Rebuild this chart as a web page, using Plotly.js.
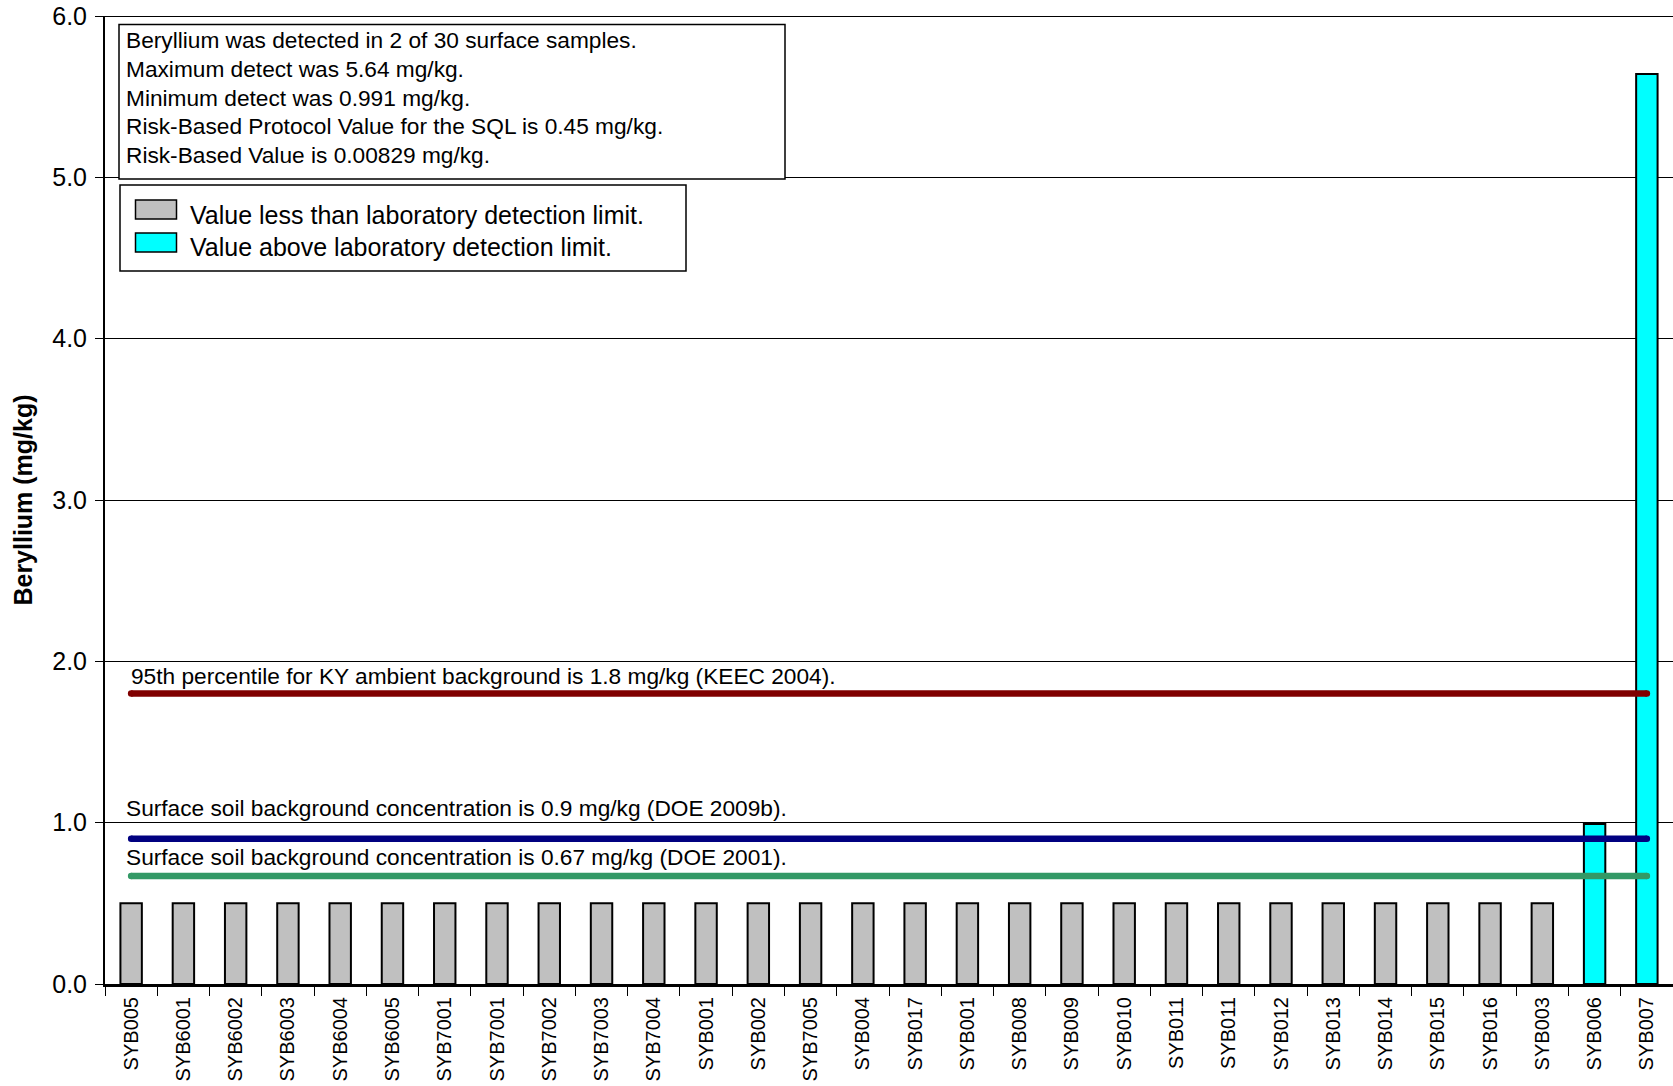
<!DOCTYPE html>
<html><head><meta charset="utf-8">
<script src="https://cdn.plot.ly/plotly-3.0.1.min.js"></script>
<style>html,body{margin:0;padding:0;background:#fff}#chart{width:1673px;height:1086px}</style>
</head><body><div id="chart"></div>
<script>
// ---------- data ----------
const sampleIds = ["SYB005","SYB6001","SYB6002","SYB6003","SYB6004","SYB6005","SYB7001","SYB7001","SYB7002","SYB7003","SYB7004","SYB001","SYB002","SYB7005","SYB004","SYB017","SYB001","SYB008","SYB009","SYB010","SYB011","SYB011","SYB012","SYB013","SYB014","SYB015","SYB016","SYB003","SYB006","SYB007"];
const berylliumValues = [0.5,0.5,0.5,0.5,0.5,0.5,0.5,0.5,0.5,0.5,0.5,0.5,0.5,0.5,0.5,0.5,0.5,0.5,0.5,0.5,0.5,0.5,0.5,0.5,0.5,0.5,0.5,0.5,0.991,5.64];
const detected = [false,false,false,false,false,false,false,false,false,false,false,false,false,false,false,false,false,false,false,false,false,false,false,false,false,false,false,false,true,true];
const refValues = [1.8, 0.9, 0.67];
const refLabels = [
  "95th percentile for KY ambient background is 1.8 mg/kg (KEEC 2004).",
  "Surface soil background concentration is 0.9 mg/kg (DOE 2009b).",
  "Surface soil background concentration is 0.67 mg/kg (DOE 2001)."
];
const summaryLines = [
  "Beryllium was detected in 2 of 30 surface samples.",
  "Maximum detect was 5.64 mg/kg.",
  "Minimum detect was 0.991 mg/kg.",
  "Risk-Based Protocol Value for the SQL is 0.45 mg/kg.",
  "Risk-Based Value is 0.00829 mg/kg."
];
const legendLabels = ["Value less than laboratory detection limit.", "Value above laboratory detection limit."];
const yTickVals = [0,1,2,3,4,5,6];
const yTickText = ["0.0","1.0","2.0","3.0","4.0","5.0","6.0"];
const yTitle = "Beryllium (mg/kg)";

// ---------- styles / geometry ----------
const W = 1673, H = 1086, ML = 105, MR = 0, MT = 16, MB = 102;
const PW = W - ML - MR, PH = H - MT - MB;
const fx = px => (px - ML) / PW;
const fy = py => (H - MB - py) / PH;
const FONT = "Arial, 'Liberation Sans', sans-serif";
const refColors = ["#800000", "#000080", "#339966"];
const refLabelX = [129, 123.5, 123.5];
const refLabelShift = [18, 31, 19];
const swatchColors = ["#C0C0C0", "#00FFFF"];

const idx = sampleIds.map((_, i) => i);
const ndX = [], ndY = [], dX = [], dY = [];
idx.forEach(i => { if (detected[i]) { dX.push(i); dY.push(berylliumValues[i]); } else { ndX.push(i); ndY.push(berylliumValues[i]); } });

const traces = [
  {type: "bar", x: ndX, y: ndY, width: 0.41, marker: {color: swatchColors[0], line: {color: "#000", width: 2}}, showlegend: false, hoverinfo: "skip"},
  {type: "bar", x: dX, y: dY, width: 0.41, marker: {color: swatchColors[1], line: {color: "#000", width: 2}}, showlegend: false, hoverinfo: "skip"}
];
refValues.forEach((v, k) => {
  traces.push({type: "scatter", mode: "lines+markers", x: [idx[0], idx[idx.length - 1]], y: [v, v],
    line: {color: refColors[k], width: 6.5}, marker: {color: refColors[k], size: 6.5}, showlegend: false, hoverinfo: "skip"});
});

const shapes = [
  {type: "line", xref: "paper", yref: "y", x0: 0, x1: 1, y0: 6, y1: 6, line: {color: "#000", width: 2}},
  // summary box
  {type: "rect", xref: "paper", yref: "paper", x0: fx(119), x1: fx(785), y0: fy(179), y1: fy(24.5), line: {color: "#000", width: 1.5}, fillcolor: "#fff", layer: "above"},
  // legend box
  {type: "rect", xref: "paper", yref: "paper", x0: fx(120), x1: fx(686), y0: fy(271), y1: fy(185), line: {color: "#000", width: 1.5}, fillcolor: "#fff", layer: "above"},
  {type: "rect", xref: "paper", yref: "paper", x0: fx(135.5), x1: fx(176.5), y0: fy(219), y1: fy(200), line: {color: "#000", width: 1.5}, fillcolor: swatchColors[0], layer: "above"},
  {type: "rect", xref: "paper", yref: "paper", x0: fx(135.5), x1: fx(176.5), y0: fy(252), y1: fy(233), line: {color: "#000", width: 1.5}, fillcolor: swatchColors[1], layer: "above"}
];

const annotations = [];
const summaryY = [40, 69, 97.5, 126, 154.5];
summaryLines.forEach((t, k) => annotations.push({xref: "paper", yref: "paper", x: fx(124), y: fy(summaryY[k]), xanchor: "left", yanchor: "middle",
  text: t, showarrow: false, font: {family: FONT, size: 22.7, color: "#000"}}));
const legendY = [214.5, 246.5];
legendLabels.forEach((t, k) => annotations.push({xref: "paper", yref: "paper", x: fx(188), y: fy(legendY[k]), xanchor: "left", yanchor: "middle",
  text: t, showarrow: false, font: {family: FONT, size: 25, color: "#000"}}));
refLabels.forEach((t, k) => annotations.push({xref: "paper", yref: "y", x: fx(refLabelX[k]), y: refValues[k], yshift: refLabelShift[k], xanchor: "left", yanchor: "middle",
  text: t, showarrow: false, font: {family: FONT, size: 22.7, color: "#000"}}));

const layout = {
  width: W, height: H,
  margin: {l: ML, r: MR, t: MT, b: MB, pad: 0},
  paper_bgcolor: "#fff", plot_bgcolor: "#fff",
  barmode: "overlay",
  font: {family: FONT, color: "#000"},
  xaxis: {
    type: "linear", range: [-0.5, sampleIds.length - 0.5], tickmode: "array", tickvals: idx, ticktext: sampleIds,
    tickangle: -90, ticks: "", ticklabelstandoff: 2, tickfont: {family: FONT, size: 20, color: "#000"},
    minor: {ticks: "outside", tickmode: "linear", tick0: -0.5, dtick: 1, ticklen: 9, tickwidth: 1, tickcolor: "#000", showgrid: false},
    showline: true, linecolor: "#000", linewidth: 3, showgrid: false, zeroline: false, fixedrange: true
  },
  yaxis: {
    range: [0, 6], tickmode: "array", tickvals: yTickVals, ticktext: yTickText,
    ticks: "outside", ticklen: 8, tickwidth: 1, tickcolor: "#000", ticklabelstandoff: 3, tickfont: {family: FONT, size: 25, color: "#000"},
    showline: true, linecolor: "#000", linewidth: 2, showgrid: true, gridcolor: "#000", gridwidth: 1, zeroline: false,
    title: {text: yTitle, font: {family: FONT, size: 25, color: "#000", weight: "bold"}, standoff: 12}, automargin: false, fixedrange: true
  },
  shapes: shapes,
  annotations: annotations,
  showlegend: false
};

Plotly.newPlot("chart", traces, layout, {displayModeBar: false, staticPlot: true});
</script>
</body></html>
